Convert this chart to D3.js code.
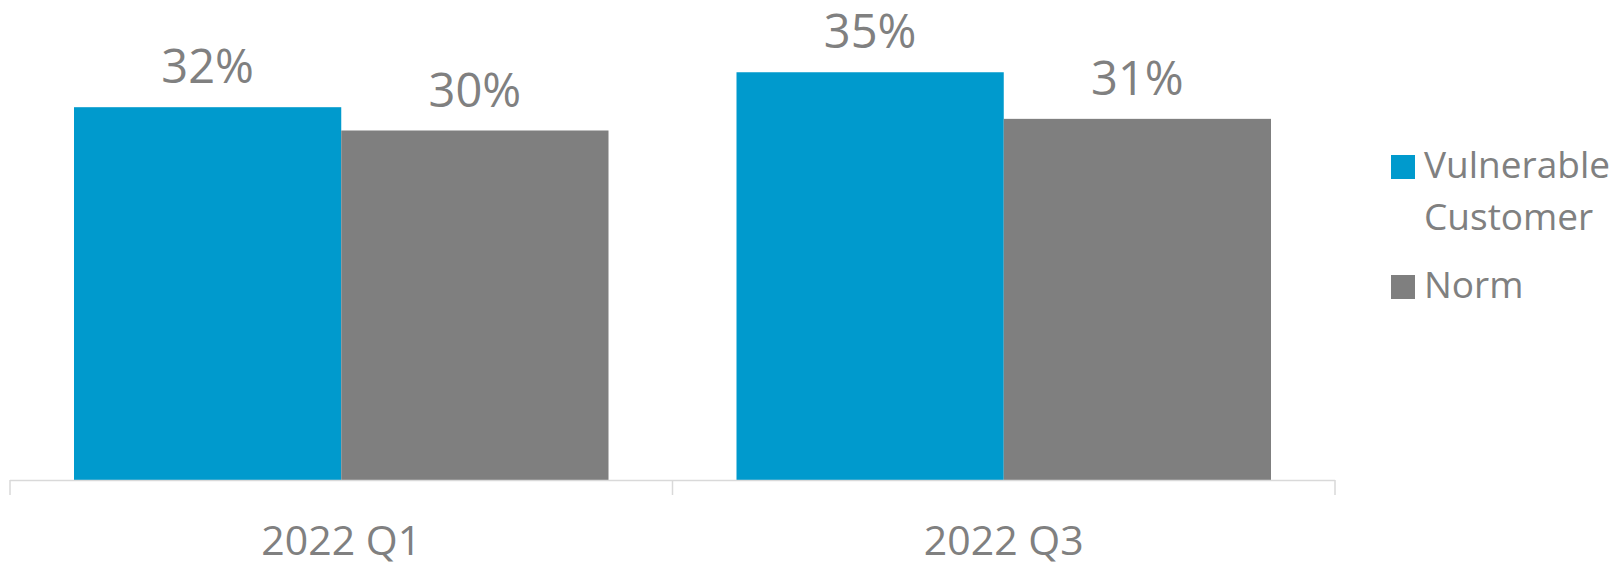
<!DOCTYPE html>
<html lang="en">
  <head>
    <meta charset="UTF-8" />
    <script src="https://d3js.org/d3.v7.min.js"></script>
    <title>Vulnerable Customer vs Norm</title>
    <style>
      body { margin: 0; background: #fff; }
      text { font-family: 'Open Sans', sans-serif; fill: #808080; }
    </style>
  </head>
  <body>
    <script>
      // data
      const categories = ['2022 Q1', '2022 Q3']
      const seriesNames = ['Vulnerable Customer', 'Norm']
      const vulnerable = [0.32, 0.35]
      const norm = [0.30, 0.31]
      const colors = ['#009ACD', '#7F7F7F']

      const width = 1618, height = 566
      const svg = d3.select('body').append('svg')
        .attr('width', width).attr('height', height)

      const x0 = d3.scaleBand().domain(categories).range([10, 1335]).padding(0)
      const x1 = d3.scaleBand().domain(seriesNames)
        .range([64, x0.bandwidth() - 64]).padding(0)
      const y = d3.scaleLinear().domain([0, 0.4]).range([480, 14])

      const rows = categories.map((c, i) => ({
        cat: c,
        vals: [
          { s: seriesNames[0], v: vulnerable[i], color: colors[0] },
          { s: seriesNames[1], v: norm[i], color: colors[1] },
        ],
      }))

      const g = svg.selectAll('g.cat').data(rows).enter().append('g')
        .attr('class', 'cat')
        .attr('transform', (d) => 'translate(' + x0(d.cat) + ',0)')

      g.selectAll('rect').data((d) => d.vals).enter().append('rect')
        .attr('x', (d) => x1(d.s))
        .attr('width', x1.bandwidth())
        .attr('y', (d) => y(d.v))
        .attr('height', (d) => y(0) - y(d.v))
        .attr('fill', (d) => d.color)

      g.selectAll('text.val').data((d) => d.vals).enter().append('text')
        .attr('class', 'val')
        .attr('x', (d) => x1(d.s) + x1.bandwidth() / 2)
        .attr('y', (d) => y(d.v) - 24)
        .attr('text-anchor', 'middle')
        .style('font-size', '47px')
        .text((d) => d3.format('.0%')(d.v))

      // x axis
      const axis = svg.append('g')
      axis.append('line')
        .attr('x1', x0.range()[0]).attr('x2', x0.range()[1])
        .attr('y1', y(0) + 0.5).attr('y2', y(0) + 0.5)
        .attr('stroke', '#d9d9d9').attr('stroke-width', 1.5)
      const tickXs = categories.map((c) => x0(c)).concat([x0.range()[1]])
      axis.selectAll('line.tick').data(tickXs).enter().append('line')
        .attr('class', 'tick')
        .attr('x1', (d) => d).attr('x2', (d) => d)
        .attr('y1', y(0)).attr('y2', y(0) + 15)
        .attr('stroke', '#d9d9d9').attr('stroke-width', 1.5)
      axis.selectAll('text').data(categories).enter().append('text')
        .attr('x', (d) => x0(d) + x0.bandwidth() / 2)
        .attr('y', 555)
        .attr('text-anchor', 'middle')
        .style('font-size', '41px')
        .text((d) => d)

      // legend
      const legendLines = [['Vulnerable', 'Customer'], ['Norm']]
      const legendY = [155, 275]
      const lg = svg.selectAll('g.legend').data(seriesNames).enter().append('g')
        .attr('class', 'legend')
        .attr('transform', (d, i) => 'translate(1391,' + legendY[i] + ')')
      lg.append('rect')
        .attr('width', 24).attr('height', 24)
        .attr('fill', (d, i) => colors[i])
      lg.append('text')
        .attr('x', 33)
        .attr('y', 22.5)
        .style('font-size', '37px')
        .selectAll('tspan').data((d, i) => legendLines[i]).enter().append('tspan')
        .attr('x', 33)
        .attr('dy', (d, j) => (j === 0 ? 0 : 52))
        .text((d) => d)
    </script>
  </body>
</html>
